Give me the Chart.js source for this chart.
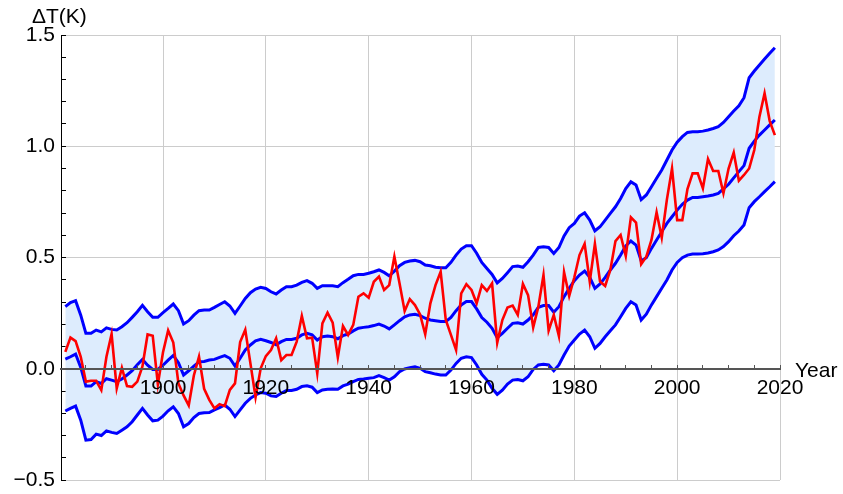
<!DOCTYPE html>
<html>
<head>
<meta charset="utf-8">
<script src="https://cdn.jsdelivr.net/npm/chart.js@4.4.1/dist/chart.umd.min.js"></script>
<style>
  html, body { margin: 0; padding: 0; background: #ffffff; }
  #wrap { width: 843px; height: 494px; }
</style>
</head>
<body>
<div id="wrap"><canvas id="c" width="843" height="494"></canvas></div>
<script>
// ---- Data ----
const years = [
  1881,1882,1883,1884,1885,1886,1887,1888,1889,1890,
  1891,1892,1893,1894,1895,1896,1897,1898,1899,1900,
  1901,1902,1903,1904,1905,1906,1907,1908,1909,1910,
  1911,1912,1913,1914,1915,1916,1917,1918,1919,1920,
  1921,1922,1923,1924,1925,1926,1927,1928,1929,1930,
  1931,1932,1933,1934,1935,1936,1937,1938,1939,1940,
  1941,1942,1943,1944,1945,1946,1947,1948,1949,1950,
  1951,1952,1953,1954,1955,1956,1957,1958,1959,1960,
  1961,1962,1963,1964,1965,1966,1967,1968,1969,1970,
  1971,1972,1973,1974,1975,1976,1977,1978,1979,1980,
  1981,1982,1983,1984,1985,1986,1987,1988,1989,1990,
  1991,1992,1993,1994,1995,1996,1997,1998,1999,2000,
  2001,2002,2003,2004,2005,2006,2007,2008,2009,2010,
  2011,2012,2013,2014,2015,2016,2017,2018,2019
];

const observed = [
  0.076,0.140,0.124,0.054,-0.058,-0.054,-0.054,-0.096,0.054,0.156,
  -0.088,0.004,-0.078,-0.081,-0.058,0.010,0.154,0.148,-0.070,0.074,
  0.172,0.118,-0.066,-0.120,-0.165,-0.030,0.054,-0.090,-0.140,-0.178,
  -0.159,-0.168,-0.095,-0.066,0.120,0.175,0.024,-0.128,0.002,0.057,
  0.084,0.137,0.039,0.062,0.062,0.122,0.237,0.137,0.140,-0.021,
  0.204,0.252,0.207,0.051,0.192,0.152,0.197,0.324,0.339,0.319,
  0.391,0.414,0.354,0.376,0.504,0.384,0.259,0.313,0.286,0.244,
  0.155,0.294,0.376,0.436,0.219,0.152,0.084,0.339,0.380,0.354,
  0.294,0.376,0.350,0.384,0.117,0.219,0.275,0.284,0.242,0.381,
  0.331,0.186,0.279,0.421,0.171,0.242,0.147,0.434,0.327,0.411,
  0.511,0.561,0.392,0.561,0.392,0.372,0.444,0.574,0.601,0.507,
  0.681,0.657,0.470,0.504,0.579,0.703,0.589,0.760,0.900,0.668,
  0.668,0.808,0.878,0.878,0.811,0.943,0.889,0.889,0.789,0.900,
  0.972,0.845,0.871,0.900,0.983,1.133,1.238,1.113,1.050
];

const trend = [
  0.043,0.054,0.066,0.006,-0.078,-0.078,-0.058,-0.066,-0.045,-0.051,
  -0.058,-0.046,-0.028,-0.009,0.018,0.042,0.016,-0.003,-0.003,0.016,
  0.039,0.060,0.027,-0.028,-0.009,0.012,0.031,0.033,0.039,0.042,
  0.051,0.059,0.047,0.012,0.047,0.084,0.107,0.125,0.132,0.126,
  0.118,0.108,0.122,0.132,0.132,0.137,0.152,0.159,0.152,0.129,
  0.144,0.147,0.144,0.135,0.149,0.156,0.170,0.182,0.186,0.189,
  0.194,0.201,0.192,0.179,0.197,0.216,0.233,0.242,0.245,0.239,
  0.227,0.219,0.216,0.212,0.212,0.231,0.261,0.287,0.302,0.302,
  0.269,0.230,0.209,0.182,0.140,0.159,0.182,0.204,0.207,0.201,
  0.219,0.242,0.276,0.284,0.284,0.254,0.279,0.324,0.361,0.396,
  0.421,0.439,0.411,0.361,0.381,0.411,0.444,0.474,0.511,0.552,
  0.574,0.556,0.485,0.499,0.541,0.579,0.616,0.653,0.683,0.713,
  0.739,0.758,0.770,0.770,0.773,0.776,0.781,0.788,0.808,0.829,
  0.858,0.886,0.913,0.991,1.023,1.050,1.073,1.096,1.118
];

const upperBand = [
  0.279,0.297,0.306,0.241,0.159,0.159,0.174,0.166,0.184,0.177,
  0.174,0.189,0.207,0.231,0.256,0.285,0.256,0.231,0.231,0.252,
  0.271,0.291,0.261,0.201,0.216,0.241,0.261,0.264,0.264,0.276,
  0.289,0.301,0.282,0.249,0.282,0.316,0.342,0.358,0.366,0.361,
  0.346,0.336,0.354,0.369,0.369,0.376,0.388,0.396,0.384,0.361,
  0.373,0.373,0.373,0.369,0.387,0.402,0.418,0.424,0.424,0.429,
  0.436,0.444,0.433,0.418,0.439,0.463,0.478,0.484,0.487,0.481,
  0.466,0.463,0.456,0.454,0.454,0.478,0.511,0.538,0.553,0.553,
  0.519,0.478,0.451,0.424,0.386,0.406,0.432,0.459,0.462,0.456,
  0.481,0.511,0.545,0.548,0.545,0.518,0.545,0.597,0.634,0.653,
  0.686,0.701,0.668,0.620,0.638,0.668,0.698,0.728,0.765,0.810,
  0.840,0.826,0.760,0.781,0.818,0.856,0.893,0.938,0.983,1.018,
  1.043,1.062,1.065,1.065,1.068,1.073,1.080,1.088,1.107,1.133,
  1.158,1.182,1.218,1.308,1.338,1.365,1.392,1.418,1.443
];

const lowerBand = [
  -0.190,-0.178,-0.168,-0.231,-0.321,-0.318,-0.294,-0.300,-0.279,-0.286,
  -0.291,-0.276,-0.261,-0.238,-0.208,-0.178,-0.208,-0.234,-0.231,-0.213,
  -0.189,-0.171,-0.201,-0.261,-0.246,-0.219,-0.201,-0.198,-0.197,-0.185,
  -0.175,-0.163,-0.182,-0.215,-0.185,-0.155,-0.133,-0.118,-0.107,-0.110,
  -0.122,-0.125,-0.110,-0.098,-0.098,-0.092,-0.080,-0.077,-0.083,-0.107,
  -0.095,-0.092,-0.091,-0.092,-0.077,-0.069,-0.058,-0.048,-0.046,-0.043,
  -0.040,-0.031,-0.040,-0.051,-0.036,-0.013,-0.001,0.005,0.009,0.002,
  -0.013,-0.018,-0.024,-0.028,-0.028,-0.006,0.024,0.047,0.054,0.050,
  0.017,-0.025,-0.051,-0.088,-0.115,-0.096,-0.069,-0.051,-0.048,-0.054,
  -0.036,-0.003,0.017,0.020,0.017,-0.009,0.017,0.062,0.102,0.129,
  0.156,0.174,0.144,0.092,0.114,0.144,0.171,0.197,0.234,0.271,
  0.301,0.287,0.219,0.245,0.287,0.324,0.362,0.399,0.444,0.478,
  0.499,0.511,0.516,0.516,0.517,0.520,0.526,0.534,0.549,0.571,
  0.598,0.619,0.646,0.724,0.751,0.773,0.796,0.818,0.841
];

const xLabelYears = [1900, 1920, 1940, 1960, 1980, 2000, 2020];
const yLabelValues = [-0.5, 0, 0.5, 1.0, 1.5];
const xAxisTitle = 'Year';
const yAxisTitle = '\u0394T(K)';

// ---- Helpers ----
const pts = (arr) => years.map((yr, i) => ({ x: yr, y: arr[i] }));
const isXMajor = (v) => xLabelYears.some(l => Math.abs(l - v) < 1e-6);
const isYMajor = (v) => yLabelValues.some(l => Math.abs(l - v) < 1e-6);
const FONT = "'Liberation Sans', Arial, Helvetica, sans-serif";
const X_MIN = 1880.16, X_MAX = 2020;
const noPad = (s) => { s.paddingTop = 0; s.paddingBottom = 0; s.paddingLeft = 0; s.paddingRight = 0; };

const titlesPlugin = {
  id: 'axisTitles',
  afterDraw(chart) {
    const ctx = chart.ctx;
    const area = chart.chartArea;
    const y0 = chart.scales.y.getPixelForValue(0);
    ctx.save();
    ctx.fillStyle = '#000';
    ctx.font = '21px ' + FONT;
    ctx.textAlign = 'left';
    ctx.textBaseline = 'alphabetic';
    ctx.fillText(yAxisTitle, 32, 23);
    ctx.fillText(xAxisTitle, area.right + 15, y0 + 8);
    ctx.restore();
  }
};

new Chart(document.getElementById('c'), {
  type: 'line',
  data: {
    datasets: [
      { label: 'observed', data: pts(observed), borderColor: '#ff0000', borderWidth: 2.6,
        pointRadius: 0, fill: false, tension: 0 },
      { label: 'trend', data: pts(trend), borderColor: '#0000ff', borderWidth: 3,
        pointRadius: 0, fill: false, tension: 0 },
      { label: 'upper', data: pts(upperBand), borderColor: '#0000ff', borderWidth: 3,
        pointRadius: 0, fill: 3, backgroundColor: 'rgb(221,236,253)', tension: 0 },
      { label: 'lower', data: pts(lowerBand), borderColor: '#0000ff', borderWidth: 3,
        pointRadius: 0, fill: false, tension: 0 }
    ]
  },
  options: {
    responsive: false,
    animation: false,
    devicePixelRatio: 1,
    layout: { padding: { left: 0, top: 35, right: 63, bottom: 14 } },
    plugins: {
      legend: { display: false },
      tooltip: { enabled: false },
      filler: { drawTime: 'beforeDatasetsDraw' }
    },
    scales: {
      // grid-only x scale, drawn behind the data
      x: {
        type: 'linear',
        position: { y: 0 },
        min: X_MIN,
        max: X_MAX,
        afterFit: noPad,
        grid: {
          color: (c) => (c.tick && isXMajor(c.tick.value)) ? '#cccccc' : 'rgba(0,0,0,0)',
          lineWidth: 1,
          drawTicks: false
        },
        border: { display: false },
        ticks: { stepSize: 5, includeBounds: false, autoSkip: false, display: false }
      },
      // axis line, tick marks and labels, drawn in front of the data
      xAxis: {
        type: 'linear',
        axis: 'x',
        position: { y: 0 },
        min: X_MIN,
        max: X_MAX,
        afterFit: noPad,
        grid: {
          z: 1,
          drawOnChartArea: false,
          drawTicks: true,
          tickLength: -5,
          tickColor: '#555555',
          tickWidth: 1
        },
        border: { display: true, color: '#555555', width: 2, z: 1 },
        ticks: {
          z: 1,
          stepSize: 5,
          includeBounds: false,
          autoSkip: false,
          maxRotation: 0,
          padding: 12,
          color: '#000',
          font: { family: FONT, size: 21 },
          callback: (v) => isXMajor(v) ? String(Math.round(v)) : ''
        }
      },
      y: {
        type: 'linear',
        position: 'left',
        min: -0.5,
        max: 1.5,
        afterFit: (s) => { s.width = 61; noPad(s); },
        grid: {
          color: (c) => (c.tick && isYMajor(c.tick.value) && Math.abs(c.tick.value) > 1e-6) ? '#cccccc' : 'rgba(0,0,0,0)',
          lineWidth: 1,
          drawTicks: true,
          tickLength: -5,
          tickColor: '#000000',
          tickWidth: 1
        },
        border: { display: true, color: '#000000', width: 1 },
        ticks: {
          stepSize: 0.1,
          autoSkip: false,
          padding: 11,
          color: '#000',
          font: { family: FONT, size: 21 },
          callback: (v) => isYMajor(v) ? (v < 0 ? '\u2212' + Math.abs(v).toFixed(1) : v.toFixed(1)) : ''
        }
      }
    }
  },
  plugins: [titlesPlugin]
});
</script>
</body>
</html>
